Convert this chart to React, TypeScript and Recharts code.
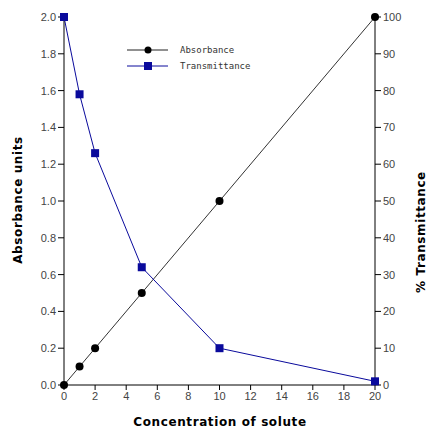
import React from 'react'
import { LineChart, Line, XAxis, YAxis, Legend } from 'recharts'

const concentration = [0, 1, 2, 5, 10, 20]
const absorbance = [0, 0.1, 0.2, 0.5, 1.0, 2.0]
const transmittance = [100, 79, 63, 32, 10, 1]

const xTicks = [0, 2, 4, 6, 8, 10, 12, 14, 16, 18, 20]
const xMinor = [0, 1, 2, 3, 4, 5, 6, 7, 8, 9, 10, 11, 12, 13, 14, 15, 16, 17, 18, 19, 20]
const leftTicks = [0, 0.2, 0.4, 0.6, 0.8, 1.0, 1.2, 1.4, 1.6, 1.8, 2.0]
const leftMinor = [0, 0.1, 0.2, 0.3, 0.4, 0.5, 0.6, 0.7, 0.8, 0.9, 1.0, 1.1, 1.2, 1.3, 1.4, 1.5, 1.6, 1.7, 1.8, 1.9, 2.0]
const rightTicks = [0, 10, 20, 30, 40, 50, 60, 70, 80, 90, 100]
const rightMinor = [0, 5, 10, 15, 20, 25, 30, 35, 40, 45, 50, 55, 60, 65, 70, 75, 80, 85, 90, 95, 100]

const data = concentration.map((c, i) => ({
  c,
  absorbance: absorbance[i],
  transmittance: transmittance[i],
}))

const BLUE = '#0a0a9c'
const tickStyle = { fill: '#444', fontSize: 11, fontFamily: 'Liberation Sans, Arial, sans-serif' }
const titleStyle: React.CSSProperties = {
  fontFamily: 'DejaVu Sans, sans-serif',
  fontWeight: 'bold',
  fontSize: 12,
  letterSpacing: 0.6,
}

const empty = () => <g />

const SquareDot = (props: any) => {
  const { cx, cy, index } = props
  if (cx == null || cy == null) return <g key={index} />
  return <rect key={index} x={cx - 4} y={cy - 4} width={8} height={8} fill={BLUE} />
}

const LegendBox = () => (
  <svg width={140} height={32}>
    <line x1={7} y1={7} x2={48} y2={7} stroke="#222" strokeWidth={1} />
    <circle cx={28} cy={7} r={3.5} fill="#000" />
    <text x={60} y={10} fontSize={9} fontFamily="DejaVu Sans Mono, monospace" fill="#333">
      Absorbance
    </text>
    <line x1={7} y1={23} x2={48} y2={23} stroke={BLUE} strokeWidth={1} />
    <rect x={24} y={19} width={8} height={8} fill={BLUE} />
    <text x={60} y={26} fontSize={9} fontFamily="DejaVu Sans Mono, monospace" fill="#333">
      Transmittance
    </text>
  </svg>
)

export default function App() {
  return (
    <div style={{ position: 'absolute', left: 0, top: 0, width: 427, height: 428, background: '#fff' }}>
      <LineChart width={427} height={428} data={data} margin={{ top: 17, right: 12, bottom: 23, left: 24 }}>
        <XAxis
          xAxisId="minor"
          dataKey="c"
          type="number"
          domain={[0, 20]}
          ticks={xMinor}
          height={0}
          axisLine={false}
          tick={empty}
          tickSize={3}
          tickLine={{ stroke: '#000' }}
        />
        <XAxis
          xAxisId="main"
          dataKey="c"
          type="number"
          domain={[0, 20]}
          ticks={xTicks}
          height={20}
          interval={0}
          axisLine={{ stroke: '#000' }}
          tickLine={{ stroke: '#000' }}
          tickSize={5}
          tick={tickStyle}
        />
        <YAxis
          yAxisId="minorL"
          orientation="left"
          type="number"
          domain={[0, 2]}
          ticks={leftMinor}
          width={0}
          axisLine={false}
          tick={empty}
          tickSize={3}
          tickLine={{ stroke: '#000' }}
        />
        <YAxis
          yAxisId="abs"
          orientation="left"
          type="number"
          domain={[0, 2]}
          ticks={leftTicks}
          width={40}
          interval={0}
          tickFormatter={(v: number) => v.toFixed(1)}
          axisLine={{ stroke: '#000' }}
          tickLine={{ stroke: '#000' }}
          tickSize={6}
          tick={tickStyle}
        />
        <YAxis
          yAxisId="minorR"
          orientation="right"
          type="number"
          domain={[0, 100]}
          ticks={rightMinor}
          width={0}
          axisLine={false}
          tick={empty}
          tickSize={3}
          tickLine={{ stroke: '#000' }}
        />
        <YAxis
          yAxisId="trans"
          orientation="right"
          type="number"
          domain={[0, 100]}
          ticks={rightTicks}
          width={40}
          interval={0}
          axisLine={{ stroke: '#000' }}
          tickLine={{ stroke: '#000' }}
          tickSize={6}
          tick={tickStyle}
        />
        <Legend
          layout="vertical"
          align="center"
          verticalAlign="middle"
          content={() => <LegendBox />}
          wrapperStyle={{ left: 120, top: 43, width: 140, height: 32 }}
        />
        <Line
          xAxisId="main"
          yAxisId="abs"
          type="linear"
          dataKey="absorbance"
          stroke="#333"
          strokeWidth={1}
          dot={{ r: 4, fill: '#000', stroke: '#000', strokeWidth: 0 }}
          isAnimationActive={false}
        />
        <Line
          xAxisId="main"
          yAxisId="trans"
          type="linear"
          dataKey="transmittance"
          stroke={BLUE}
          strokeWidth={1}
          dot={SquareDot}
          isAnimationActive={false}
        />
        <text x={220} y={426} textAnchor="middle" style={titleStyle} fill="#000">
          Concentration of solute
        </text>
        <text x={22} y={200} textAnchor="middle" transform="rotate(-90 22 200)" style={titleStyle} fill="#000">
          Absorbance units
        </text>
        <text x={425} y={232} textAnchor="middle" transform="rotate(-90 425 232)" style={titleStyle} fill="#000">
          % Transmittance
        </text>
      </LineChart>
    </div>
  )
}
